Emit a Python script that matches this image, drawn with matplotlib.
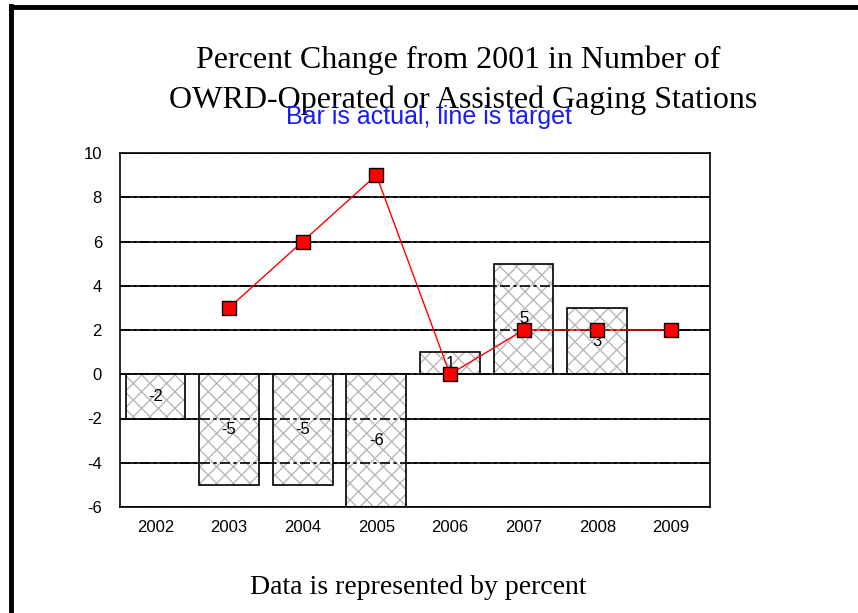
import matplotlib.pyplot as plt
from matplotlib.lines import Line2D
import numpy as np

# data
years = ["2002", "2003", "2004", "2005", "2006", "2007", "2008", "2009"]
actual = [-2, -5, -5, -6, 1, 5, 3, None]
target = [None, 3, 6, 9, 0, 2, 2, 2]
y_ticks = [-6, -4, -2, 0, 2, 4, 6, 8, 10]

plt.rcParams["axes.unicode_minus"] = False
plt.rcParams["hatch.color"] = "#b8b8b8"
plt.rcParams["hatch.linewidth"] = 1.0

W, H = 858, 613
fig = plt.figure(figsize=(W / 100, H / 100), dpi=100)
fig.patch.set_facecolor("white")

# plot area in pixel coords -> figure fraction
left, right, top, bottom = 120, 710, 153, 507
ax = fig.add_axes([left / W, 1 - bottom / H, (right - left) / W, (bottom - top) / H])

x = np.arange(len(years))

# grid lines behind the bars (solid) and over them (dashed)
for v in y_ticks:
    ax.axhline(v, color="black", lw=1.2, zorder=0)

for i, v in enumerate(actual):
    if v is None:
        continue
    ax.bar(x[i], v, width=0.81, facecolor="white", edgecolor="#b8b8b8",
           hatch="xx", linewidth=0, zorder=1)
    ax.bar(x[i], v, width=0.81, facecolor="none", edgecolor="black",
           linewidth=1.2, zorder=3)
    ax.text(x[i], v / 2, str(v), ha="center", va="center", fontsize=12,
            family="Liberation Sans", zorder=4)

for v in y_ticks:
    ax.axhline(v, color="black", lw=1.2, ls=(0, (6, 2, 2, 2)), zorder=2)

tx = [x[i] for i, v in enumerate(target) if v is not None]
ty = [v for v in target if v is not None]
ax.plot(tx, ty, color="red", lw=1, zorder=5)
ax.plot(tx, ty, ls="none", marker="s", markersize=10, markerfacecolor="red",
        markeredgecolor="black", markeredgewidth=1, zorder=6)

ax.set_xlim(-0.48, 7.53)
ax.set_ylim(-6, 10)
ax.set_yticks(y_ticks)
ax.set_xticks(x)
ax.set_xticklabels(years)
ax.tick_params(length=0, labelsize=12, pad=9)
ax.tick_params(axis="y", pad=13)
for lab in ax.get_xticklabels() + ax.get_yticklabels():
    lab.set_family("Liberation Sans")
for s in ax.spines.values():
    s.set_linewidth(1.2)

# title, subtitle, footer
fig.text(458 / W, 1 - 60 / H, "Percent Change from 2001 in Number of",
         ha="center", va="center", fontsize=23, family="Liberation Serif")
fig.text(463 / W, 1 - 100 / H, "OWRD-Operated or Assisted Gaging Stations",
         ha="center", va="center", fontsize=23, family="Liberation Serif")
fig.text(429 / W, 1 - 117 / H, "Bar is actual, line is target",
         ha="center", va="center", fontsize=18, color="#1a1aff",
         family="Liberation Sans")
fig.text(418 / W, 1 - 587 / H, "Data is represented by percent",
         ha="center", va="center", fontsize=20, family="Liberation Serif")

# page border on left and top
fig.add_artist(Line2D([11 / W, 11 / W], [0, 1 - 6 / H], color="black", lw=3.5))
fig.add_artist(Line2D([11 / W, 1], [1 - 6.5 / H, 1 - 6.5 / H], color="black", lw=3.5))

fig.savefig("out.png", dpi=100)
